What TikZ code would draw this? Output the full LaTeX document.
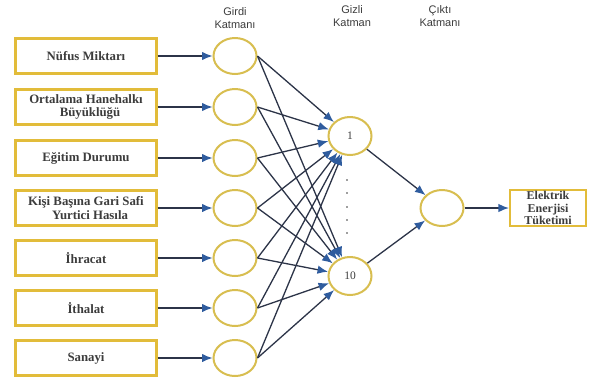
\documentclass[tikz,border=0pt]{standalone}
\usepackage{fontspec}
\setmainfont{Liberation Serif}
\newfontfamily\labelfont{Liberation Sans}
\usetikzlibrary{shapes.geometric,arrows.meta}
\definecolor{gold}{HTML}{E2BC3A}
\definecolor{ringgold}{HTML}{D8BE50}
\definecolor{edge}{HTML}{2C3448}
\definecolor{tip}{HTML}{2F5C9E}
\definecolor{txt}{HTML}{3C3C3C}
\tikzset{
  inbox/.style={draw=gold, line width=2.2pt, fill=white, minimum width=141pt, minimum height=35pt, inner sep=1pt, align=center, text=txt, font=\fontsize{12.8}{13.5}\selectfont\bfseries},
  outbox/.style={draw=gold, line width=2.2pt, fill=white, minimum width=76pt, minimum height=36pt, inner sep=0pt, align=center, text=txt, font=\fontsize{12}{12.8}\selectfont\bfseries},
  neuron/.style={ellipse, draw=ringgold, line width=2pt, fill=white, minimum width=43pt, minimum height=36pt, inner sep=0pt, text=txt, font=\fontsize{11.5}{12}\selectfont},
  layerlabel/.style={align=center, font=\labelfont\fontsize{11}{13}\selectfont, text=txt},
  conn/.style={draw=edge, line width=1.3pt, -{Latex[length=10.5pt,width=8.5pt,color=tip]}},
}
\begin{document}
\begin{tikzpicture}[x=1pt,y=-1pt]
\useasboundingbox (0,0) rectangle (591,381);
% layer labels
\node[layerlabel] (l1) at (235,18) {Girdi\\Katmanı};
\node[layerlabel] (l2) at (352,16) {Gizli\\Katman};
\node[layerlabel] (l3) at (440,16) {Çıktı\\Katmanı};
% input boxes
\node[inbox] (b1) at (86,56) {Nüfus Miktarı};
\node[inbox] (b2) at (86,107) {Ortalama Hanehalkı\\\hspace*{8pt}Büyüklüğü};
\node[inbox] (b3) at (86,158) {Eğitim Durumu};
\node[inbox] (b4) at (86,208) {Kişi Başına Gari Safi\\\hspace*{8pt}Yurtici Hasıla};
\node[inbox] (b5) at (86,258) {İhracat};
\node[inbox] (b6) at (86,308) {İthalat};
\node[inbox] (b7) at (86,358) {Sanayi};
% input neurons
\foreach \i/\y in {1/56,2/107,3/158,4/208,5/258,6/308,7/358}{
  \node[neuron] (n\i) at (235,\y) {};
}
% hidden neurons
\node[neuron, minimum height=38pt] (h1) at (350,136) {1};
\node[neuron, minimum height=38pt] (h10) at (350,276) {10};
% dots between hidden neurons
\foreach \y in {180,193,207,220,233}{
  \fill[txt] (347,\y) circle (0.8pt);
}
% output
\node[neuron] (o) at (442,208) {};
\node[outbox] (ob) at (548,208) {Elektrik\\Enerjisi\\Tüketimi};
% connectors
\foreach \i in {1,...,7}{
  \draw[conn] (b\i) -- (n\i);
  \draw[conn] (n\i.east) -- (h1);
  \draw[conn] (n\i.east) -- (h10);
}
\draw[conn] (h1) -- (o);
\draw[conn] (h10) -- (o);
\draw[conn] (o) -- (ob);
\end{tikzpicture}
\end{document}
